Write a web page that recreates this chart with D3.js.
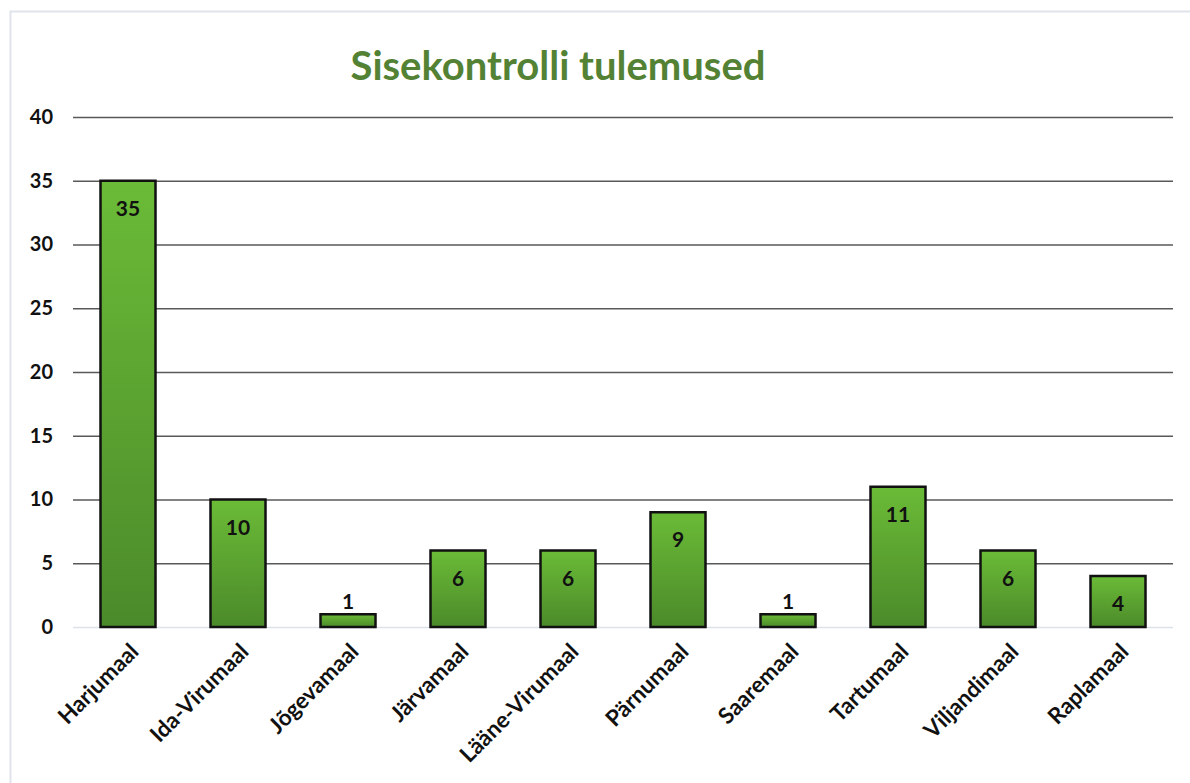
<!DOCTYPE html>
<html>
<head>
<meta charset="utf-8">
<script src="https://cdn.jsdelivr.net/npm/d3@7"></script>
<style>
    html, body { margin: 0; padding: 0; background: #fff; }
    svg text { font-family: Lato, "Open Sans", sans-serif; font-weight: bold; }
</style>
</head>
<body>
<svg id="chart" width="1190" height="783"></svg>
<script>
// Chart data
const title = 'Sisekontrolli tulemused';
const regions = ['Harjumaal', 'Ida-Virumaal', 'Jõgevamaal', 'Järvamaal', 'Lääne-Virumaal',
    'Pärnumaal', 'Saaremaal', 'Tartumaal', 'Viljandimaal', 'Raplamaal'];
const results = [35, 10, 1, 6, 6, 9, 1, 11, 6, 4];
const yTicks = [0, 5, 10, 15, 20, 25, 30, 35, 40];

const svg = d3.select('#chart');
const margin = { left: 73, right: 1173, top: 117, bottom: 627 };

// Outer chart frame (top and left edges visible)
svg.append('path')
    .attr('d', 'M10.5,800 V11.5 H1200')
    .attr('fill', 'none')
    .attr('stroke', '#dfe3ec')
    .attr('stroke-width', 2);

const x = d3.scaleBand()
    .domain(regions)
    .range([margin.left, margin.right])
    .paddingInner(0.5)
    .paddingOuter(0.25);

const y = d3.scaleLinear()
    .domain([0, 40])
    .range([margin.bottom, margin.top]);

// Bar gradient
const grad = svg.append('defs').append('linearGradient')
    .attr('id', 'barGrad')
    .attr('x1', 0).attr('y1', 0).attr('x2', 0).attr('y2', 1);
grad.append('stop').attr('offset', '0%').attr('stop-color', '#6bbb37');
grad.append('stop').attr('offset', '100%').attr('stop-color', '#4b8a2a');

// Title
svg.append('text')
    .attr('x', 558)
    .attr('y', 80)
    .attr('text-anchor', 'middle')
    .attr('fill', '#548235')
    .style('font-size', '40px')
    .text(title);

// Gridlines and y labels
const yAxis = d3.axisLeft(y)
    .tickValues(yTicks)
    .tickSize(-(margin.right - margin.left))
    .tickPadding(20);

svg.append('g')
    .attr('class', 'y-axis')
    .attr('transform', `translate(${margin.left},0)`)
    .call(yAxis)
    .call(g => g.select('.domain').remove())
    .call(g => g.selectAll('.tick line')
        .attr('stroke', d => d === 0 ? '#dde2ea' : '#595959')
        .attr('stroke-width', 1.5))
    .call(g => g.selectAll('.tick text')
        .attr('fill', '#111')
        .style('font-size', '20px'));

// Bars
svg.append('g')
    .selectAll('rect')
    .data(results)
    .join('rect')
    .attr('x', (d, i) => x(regions[i]))
    .attr('y', d => y(d))
    .attr('width', x.bandwidth())
    .attr('height', d => y(0) - y(d))
    .attr('fill', 'url(#barGrad)')
    .attr('stroke', '#111')
    .attr('stroke-width', 2.5);

// Value labels: inside end, or above bar if it doesn't fit
svg.append('g')
    .selectAll('text')
    .data(results)
    .join('text')
    .attr('x', (d, i) => x(regions[i]) + x.bandwidth() / 2)
    .attr('y', d => (y(0) - y(d)) > 30 ? y(d) + 35 : y(d) - 5)
    .attr('text-anchor', 'middle')
    .attr('fill', '#111')
    .style('font-size', '21px')
    .text(d => d);

// Category labels, rotated
const xAxis = d3.axisBottom(x).tickSize(0).tickPadding(0);
svg.append('g')
    .attr('class', 'x-axis')
    .attr('transform', `translate(0,${margin.bottom})`)
    .call(xAxis)
    .call(g => g.select('.domain').remove())
    .call(g => g.selectAll('.tick text')
        .attr('fill', '#111')
        .style('font-size', '22.5px')
        .attr('text-anchor', 'end')
        .attr('dy', null)
        .attr('transform', 'translate(12,26) rotate(-45)'));
</script>
</body>
</html>
